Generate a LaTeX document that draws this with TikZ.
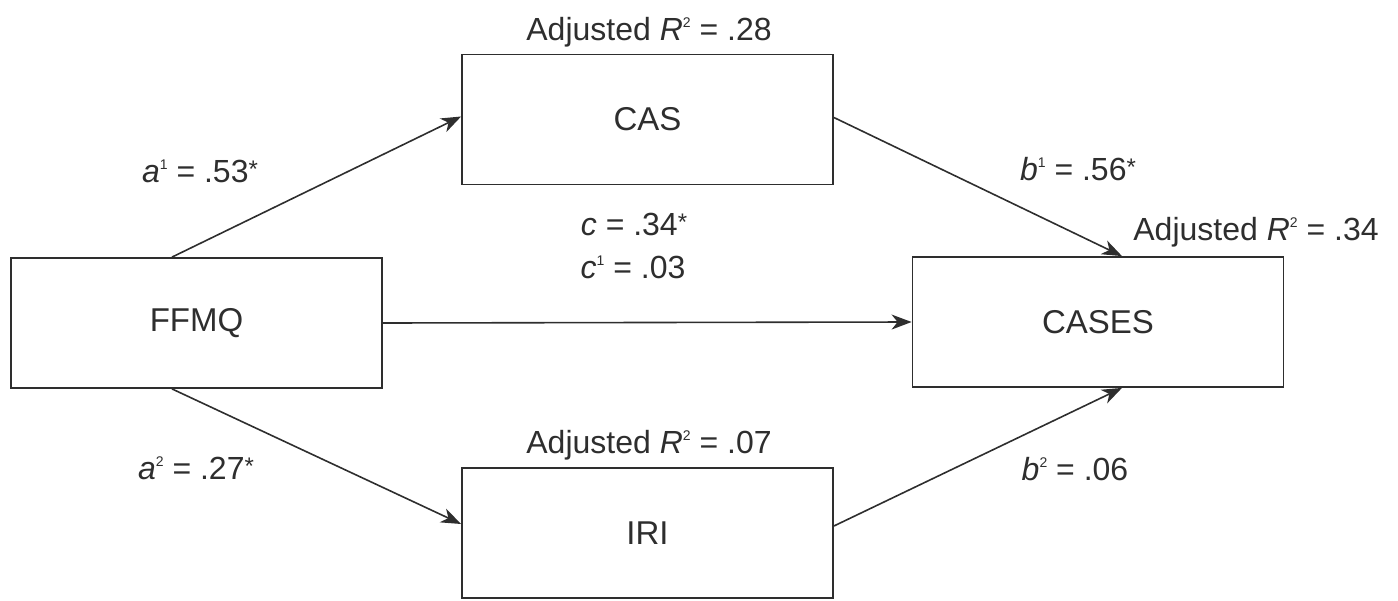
\documentclass[tikz,border=0pt]{standalone}
\usepackage{fontspec}
\setmainfont{Liberation Sans}
\usetikzlibrary{arrows.meta}
\definecolor{ink}{HTML}{2E2E2E}
\newcommand\sups[1]{\raisebox{13pt}{\fontsize{14pt}{14pt}\selectfont #1}}
\newcommand\sigstar{\raisebox{5pt}{\fontsize{24pt}{24pt}\selectfont *}}
\begin{document}
\begin{tikzpicture}[x=1pt,y=-1pt,
  box/.style={draw=ink,line width=1.8pt,minimum width=371pt,minimum height=130pt,inner sep=0pt,text=ink,font=\fontsize{33pt}{38pt}\selectfont},
  lbl/.style={inner sep=0pt,text=ink,anchor=base,font=\fontsize{32pt}{38pt}\selectfont},
  arr/.style={draw=ink,line width=1.6pt,-{Stealth[length=20pt,width=15pt,inset=6pt]}}]
\useasboundingbox (0,0) rectangle (1398,600);
\node[box] (ffmq) at (196.5,323) {FFMQ};
\node[box] (cas) at (647.5,119.5) {CAS};
\node[box] (cases) at (1098,322) {CASES};
\node[box] (iri) at (647.5,533) {IRI};
% connectors
\draw[arr] ([xshift=-24.5pt]ffmq.north) -- ([yshift=3pt]cas.west);
\draw[arr] ([yshift=2pt]cas.east) -- ([xshift=24pt]cases.north);
\draw[arr] (ffmq.east) -- (cases.west);
\draw[arr] ([xshift=-24.5pt]ffmq.south) -- ([yshift=9pt]iri.west);
\draw[arr] ([yshift=7pt]iri.east) -- ([xshift=24pt]cases.south);
% labels
\node[lbl] (r28) at (649,40) {Adjusted \textit{R}\sups{2} = .28};
\node[lbl] (r34) at (1256,240) {Adjusted \textit{R}\sups{2} = .34};
\node[lbl] (r07) at (649,453) {Adjusted \textit{R}\sups{2} = .07};
\node[lbl] (la1) at (200,182) {\textit{a}\sups{1} = .53\sigstar};
\node[lbl] (la2) at (196,479) {\textit{a}\sups{2} = .27\sigstar};
\node[lbl] (lb1) at (1078,180) {\textit{b}\sups{1} = .56\sigstar};
\node[lbl] (lb2) at (1075,480) {\textit{b}\sups{2} = .06};
\node[lbl] (lc) at (634,235) {\textit{c} = .34\sigstar};
\node[lbl] (lc1) at (633,278) {\textit{c}\sups{1} = .03};
\end{tikzpicture}
\end{document}
